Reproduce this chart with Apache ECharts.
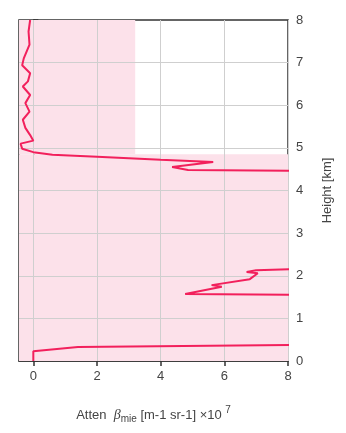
<!DOCTYPE html>
<html><head><meta charset="utf-8">
<script src="https://cdn.jsdelivr.net/npm/echarts@6/dist/echarts.min.js"></script>
<style>html,body{margin:0;padding:0;background:#fff}#c{width:346px;height:433px}</style>
</head><body><div id="c"></div>
<script>
// Attenuated backscatter profile (x = beta x1e7, y = height km)
const betaValues = [0, 0, 1.4, 8.5, 9.5, 9.5, 8.5, 4.77, 5.92, 5.6, 6.8, 7.05, 6.7, 7.0, 8.5, 9.5, 9.5, 8.5, 4.86, 4.36, 5.65, 4.0, 2.0, 0.6, 0, -0.35, -0.4, 0, -0.1, -0.25, -0.33, -0.12, -0.25, -0.1, -0.33, -0.17, -0.1, -0.35, -0.3, -0.12, -0.15, -0.1];
const heights    = [0, 0.23, 0.33, 0.38, 0.6, 1.5, 1.55, 1.57, 1.74, 1.78, 1.92, 2.06, 2.09, 2.13, 2.16, 2.4, 4.4, 4.46, 4.48, 4.55, 4.67, 4.72, 4.79, 4.84, 4.9, 4.98, 5.1, 5.17, 5.3, 5.47, 5.66, 5.85, 6.05, 6.24, 6.44, 6.56, 6.75, 6.94, 7.1, 7.42, 7.73, 8.0];
const xTicks = [0, 2, 4, 6, 8];
const yTicks = [0, 1, 2, 3, 4, 5, 6, 7, 8];

const data = betaValues.map((v, i) => [v, heights[i]]);
const chart = echarts.init(document.getElementById('c'));
const txt = '#444';
chart.setOption({
  animation: false,
  grid: {left: 19, right: 58, top: 20, bottom: 72, show: true, borderColor: '#333', borderWidth: 1.5, backgroundColor: 'transparent'},
  xAxis: {
    type: 'value', min: -0.45, max: 8, position: 'bottom',
    axisLine: {show: true, lineStyle: {color: '#333', width: 1.5}},
    axisTick: {show: true, inside: false, length: 5, customValues: xTicks, lineStyle: {color: '#333', width: 1.5}},
    axisLabel: {customValues: xTicks, margin: 9, fontSize: 13, color: txt, fontFamily: 'Liberation Sans'},
    splitLine: {show: false},
    nameLocation: 'middle', nameGap: 44,
    name: '{n|Atten  }{b|β}{s|mie}{n| [m-1 sr-1] ×10 }{p|7}',
    nameTextStyle: {
      rich: {
        n: {fontSize: 13, color: txt, fontFamily: 'Liberation Sans'},
        b: {fontSize: 14, color: txt, fontStyle: 'italic', fontFamily: 'Liberation Serif'},
        s: {fontSize: 10, color: txt, fontFamily: 'Liberation Sans', padding: [8, 0, 0, 0]},
        p: {fontSize: 10, color: txt, fontFamily: 'Liberation Sans', padding: [0, 0, 10, 0]}
      }
    }
  },
  yAxis: {
    type: 'value', min: 0, max: 8, interval: 1, position: 'right',
    axisLine: {show: true, lineStyle: {color: '#333', width: 1.5}},
    axisTick: {show: true, inside: false, length: 5, lineStyle: {color: '#333', width: 1.5}},
    axisLabel: {margin: 8, fontSize: 13, color: txt, fontFamily: 'Liberation Sans'},
    splitLine: {show: false},
    name: 'Height [km]', nameLocation: 'middle', nameGap: 33, nameRotate: 90,
    nameTextStyle: {fontSize: 13, color: txt, fontFamily: 'Liberation Sans'}
  },
  series: [{
    type: 'line', data: data, showSymbol: false, clip: true,
    lineStyle: {color: '#f2205c', width: 2},
    z: 5,
    markArea: {
      silent: true,
      itemStyle: {color: '#fce1ea'},
      data: [
        [{xAxis: -0.45, yAxis: 0}, {xAxis: 8, yAxis: 4.85}],
        [{xAxis: -0.45, yAxis: 4.85}, {xAxis: 3.2, yAxis: 8}]
      ]
    },
    markLine: {
      silent: true, symbol: 'none', label: {show: false},
      lineStyle: {color: '#cfcfcf', width: 1, type: 'solid'},
      data: xTicks.map(v => ({xAxis: v})).concat(yTicks.slice(1, -1).map(v => ({yAxis: v})))
    }
  }]
});
</script></body></html>
